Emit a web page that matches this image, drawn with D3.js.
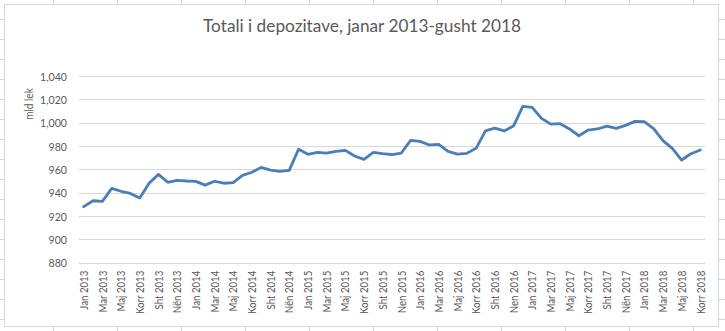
<!DOCTYPE html>
<html><head><meta charset="utf-8">
<script src="https://cdn.jsdelivr.net/npm/d3@7"></script>
<style>html,body{margin:0;padding:0;background:#fff;overflow:hidden}svg{display:block}</style>
</head><body>
<svg id="c" width="725" height="331"></svg>
<script>
const categories = [
 "Jan 2013","Shk 2013","Mar 2013","Pri 2013","Maj 2013","Qer 2013","Korr 2013","Gush 2013","Sht 2013","Tet 2013","Nën 2013","Dhj 2013",
 "Jan 2014","Shk 2014","Mar 2014","Pri 2014","Maj 2014","Qer 2014","Korr 2014","Gush 2014","Sht 2014","Tet 2014","Nën 2014","Dhj 2014",
 "Jan 2015","Shk 2015","Mar 2015","Pri 2015","Maj 2015","Qer 2015","Korr 2015","Gush 2015","Sht 2015","Tet 2015","Nen 2015","Dhj 2015",
 "Jan 2016","Shk 2016","Mar 2016","Pri 2016","Maj 2016","Qer 2016","Korr 2016","Gush 2016","Sht 2016","Tet 2016","Nen 2016","Dhj 2016",
 "Jan 2017","Shk 2017","Mar 2017","Pri 2017","Maj 2017","Qer 2017","Korr 2017","Gush 2017","Sht 2017","Tet 2017","Nën 2017","Dhj 2017",
 "Jan 2018","Shk 2018","Mar 2018","Pri 2018","Maj 2018","Qer 2018","Korr 2018"
];
const deposits = [
 928.0,933.1,932.6,943.7,941.2,939.4,935.4,948.0,955.7,948.9,950.5,950.0,
 949.7,946.5,949.8,948.1,948.7,954.9,957.5,961.7,959.4,958.3,959.1,977.2,
 972.9,974.6,973.9,975.4,976.3,971.4,968.6,974.6,973.4,972.6,974.0,984.9,
 984.0,980.9,981.4,975.4,973.1,973.7,978.0,992.9,995.4,992.9,997.1,1014.0,
 1013.1,1003.7,998.8,999.1,994.6,988.8,993.7,994.6,997.1,995.1,997.7,1001.1,
 1000.9,994.9,984.6,978.0,968.0,973.4,976.6
];
const yTicks = [880,900,920,940,960,980,1000,1020,1040];
const xTickLabels = categories.filter((d,i)=>i%2===0);
const titleText = "Totali i depozitave, janar 2013-gusht 2018";
const yAxisTitle = "mld lek";

const W=725,H=331;
const svg=d3.select("#c");
const gridCol="#d4d4d4";

// spreadsheet background
const bg=svg.append("g");
const colXs=d3.range(52.5,725,64.05);
const rowYs=d3.range(-0.5,331,20).map(v=>v+19.8);
bg.selectAll("line.c").data(colXs).join("line").attr("x1",d=>Math.round(d)+0.5).attr("x2",d=>Math.round(d)+0.5).attr("y1",0).attr("y2",H).attr("stroke",gridCol);
bg.selectAll("line.r").data(rowYs).join("line").attr("x1",0).attr("x2",W).attr("y1",d=>Math.round(d)+0.5).attr("y2",d=>Math.round(d)+0.5).attr("stroke",gridCol);

// chart area
svg.append("rect").attr("x",4.5).attr("y",4.5).attr("width",714).attr("height",322)
  .attr("fill","#fff").attr("stroke","#d9d9d9");

const x=d3.scalePoint().domain(categories).range([79,705]).padding(0.5);
const y=d3.scaleLinear().domain([880,1040]).range([262.7,76]);

function condense(sel,f){sel.each(function(){const n=this.getComputedTextLength();d3.select(this).attr("textLength",n*f).attr("lengthAdjust","spacingAndGlyphs");});}

// gridlines
const yAxis=d3.axisLeft(y).tickValues(yTicks).tickSize(-(705-79)).tickPadding(12).tickFormat(d3.format(","));
const ga=svg.append("g").attr("transform","translate(79,0)").call(yAxis);
ga.select(".domain").remove();
ga.selectAll(".tick line").attr("stroke","#d9d9d9").attr("shape-rendering","crispEdges");
ga.selectAll(".tick text").attr("fill","#595959").attr("font-family","Lato, 'Liberation Sans', sans-serif").attr("font-size","11.5px").attr("dy","0.36em").call(condense,0.92);

// x axis
const xAxis=d3.axisBottom(x).tickValues(xTickLabels).tickSize(0).tickPadding(0);
const gx=svg.append("g").attr("transform","translate(0,262.7)").call(xAxis);
gx.select(".domain").remove();
gx.selectAll(".tick text").attr("fill","#595959").attr("font-family","Lato, 'Liberation Sans', sans-serif").attr("font-size","10.5px")
  .attr("text-anchor","end").attr("transform","rotate(-90)").attr("x",-8).attr("y",0).attr("dy","0.35em").call(condense,0.92);

// line
svg.append("path").datum(deposits).attr("fill","none").attr("stroke","#4a7ebb").attr("stroke-width",2.8)
  .attr("stroke-linejoin","round").attr("stroke-linecap","round")
  .attr("d",d3.line().x((d,i)=>x(categories[i])).y(d=>y(d)));

// title
const t=svg.append("text").attr("x",362).attr("y",31.5).attr("text-anchor","middle").attr("fill","#595959")
  .attr("font-family","Lato, sans-serif").attr("font-size","17px").text(titleText);
t.attr("textLength",318).attr("lengthAdjust","spacingAndGlyphs");

// y axis title
svg.append("text").attr("transform","translate(29,104) rotate(-90)").attr("text-anchor","middle").attr("dy","0.35em")
  .attr("fill","#595959").attr("font-family","Lato, sans-serif").attr("font-size","10.5px").text(yAxisTitle).call(condense,0.95);
</script>
</body></html>
